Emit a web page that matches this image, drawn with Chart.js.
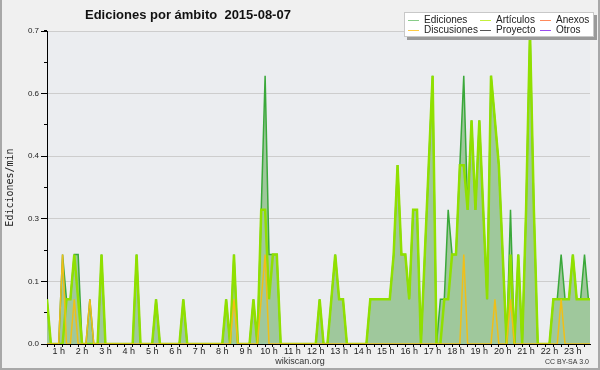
<!DOCTYPE html>
<html><head><meta charset="utf-8">
<script src="https://cdn.jsdelivr.net/npm/chart.js@4"></script>
<style>html,body{margin:0;padding:0;background:#f0f0f0;}canvas{display:block}</style>
</head><body>
<canvas id="c" width="600" height="370"></canvas>
<script>
const chartTitle = 'Ediciones por ámbito  2015-08-07';
const yTitle = 'Ediciones/min';
const footerSite = 'wikiscan.org';
const footerLicense = 'CC BY-SA 3.0';
const binMinutes = 10;
const hourLabels = ['1 h','2 h','3 h','4 h','5 h','6 h','7 h','8 h','9 h','10 h','11 h','12 h',
  '13 h','14 h','15 h','16 h','17 h','18 h','19 h','20 h','21 h','22 h','23 h'];
const yTickValues = [0, 0.14, 0.28, 0.42, 0.56, 0.7];
const yTickLabels = ['0.0','0.1','0.3','0.4','0.6','0.7'];

const ediciones = [
 0.1,0,0,0,0.2,0.1,  0.1,0.2,0.2,0,0,0.1,  0,0,0.2,0,0,0,  0,0,0,0,0,0.2,
 0,0,0,0,0.1,0,  0,0,0,0,0,0.1,  0,0,0,0,0,0,  0,0,0,0,0.1,0,
 0.2,0,0,0,0,0.1,  0,0.3,0.6,0.2,0.2,0.2,  0,0,0,0,0,0,  0,0,0,0,0.1,0,
 0,0.1,0.2,0.1,0.1,0,  0,0,0,0,0,0.1,  0.1,0.1,0.1,0.1,0.1,0.2,  0.4,0.2,0.2,0.1,0.3,0.3,
 0,0.2,0.4,0.6,0,0.1,  0.1,0.3,0.2,0.2,0.4,0.6,  0.3,0.5,0.3,0.5,0.3,0.1,  0.6,0.5,0.4,0.2,0,0.3,
 0,0.2,0,0.3,0.7,0.3,  0,0,0,0,0.1,0.1,  0.2,0.1,0.1,0.2,0.1,0.1,  0.2,0.1,0.1];
const articulos = [
 0.1,0,0,0,0,0.1,  0.1,0.2,0.1,0,0,0,  0,0,0.2,0,0,0,  0,0,0,0,0,0.2,
 0,0,0,0,0.1,0,  0,0,0,0,0,0.1,  0,0,0,0,0,0,  0,0,0,0,0.1,0,
 0.2,0,0,0,0,0.1,  0,0.3,0.3,0.1,0.2,0.2,  0,0,0,0,0,0,  0,0,0,0,0.1,0,
 0,0.1,0.2,0.1,0.1,0,  0,0,0,0,0,0.1,  0.1,0.1,0.1,0.1,0.1,0.2,  0.4,0.2,0.2,0.1,0.3,0.3,
 0,0.2,0.4,0.6,0,0,  0.1,0.1,0.2,0.2,0.4,0.4,  0.3,0.5,0.3,0.5,0.3,0.1,  0.6,0.5,0.4,0.2,0,0.2,
 0,0.2,0,0.3,0.7,0.3,  0,0,0,0,0.1,0.1,  0.1,0.1,0.1,0.2,0.1,0.1,  0.1,0.1,0.1];
const discusiones = [
 0,0,0,0,0.2,0,  0,0.1,0,0,0,0.1,  0,0,0,0,0,0,  0,0,0,0,0,0,
 0,0,0,0,0,0,  0,0,0,0,0,0,  0,0,0,0,0,0,  0,0,0,0,0,0,
 0.1,0,0,0,0,0,  0,0.1,0.2,0,0,0,  0,0,0,0,0,0,  0,0,0,0,0,0,
 0,0,0,0,0,0,  0,0,0,0,0,0,  0,0,0,0,0,0,  0,0,0,0,0,0,
 0,0,0,0,0,0,  0,0,0,0,0,0.2,  0,0,0,0,0,0,  0,0.1,0,0,0,0.1,
 0,0,0,0,0,0,  0,0,0,0,0,0,  0.1,0,0,0,0,0,  0,0,0];
const anexos = [
 0,0,0,0,0,0, 0,0,0,0,0,0, 0,0,0,0,0,0, 0,0,0,0,0,0, 0,0,0,0,0,0, 0,0,0,0,0,0,
 0,0,0,0,0,0, 0,0,0,0,0,0, 0,0,0,0,0,0, 0,0,0,0,0,0, 0,0,0,0,0,0, 0,0,0,0,0,0,
 0,0,0,0,0,0, 0,0,0,0,0,0, 0,0,0,0,0,0, 0,0,0,0,0,0, 0,0,0,0,0,0, 0,0,0,0,0,0,
 0,0,0,0,0,0, 0,0,0,0,0,0, 0,0,0,0,0,0, 0,0,0,0,0,0, 0,0,0,0,0,0, 0,0,0];
const proyecto = [
 0,0,0,0,0,0, 0,0,0,0,0,0, 0,0,0,0,0,0, 0,0,0,0,0,0, 0,0,0,0,0,0, 0,0,0,0,0,0,
 0,0,0,0,0,0, 0,0,0,0,0,0, 0,0,0,0,0,0, 0,0,0,0,0,0, 0,0,0,0,0,0, 0,0,0,0,0,0,
 0,0,0,0,0,0, 0,0,0,0,0,0, 0,0,0,0,0,0, 0,0,0,0,0,0, 0,0,0,0,0,0, 0,0,0,0,0,0,
 0,0,0,0,0,0, 0,0,0,0,0,0, 0,0,0,0,0,0, 0,0,0,0,0,0, 0,0,0,0,0,0, 0,0,0];
const otros = [
 0,0,0,0,0,0, 0,0,0,0,0,0, 0,0,0,0,0,0, 0,0,0,0,0,0, 0,0,0,0,0,0, 0,0,0,0,0,0,
 0,0,0,0,0,0, 0,0,0,0,0,0, 0,0,0,0,0,0, 0,0,0,0,0,0, 0,0,0,0,0,0, 0,0,0,0,0,0,
 0,0,0,0,0,0, 0,0,0,0,0,0, 0,0,0,0,0,0, 0,0,0,0,0,0, 0,0,0,0,0,0, 0,0,0,0,0,0,
 0,0,0,0,0,0, 0,0,0,0,0,0, 0,0,0,0,0,0, 0,0,0,0,0,0, 0,0,0,0,0,0, 0,0,0];

const xMax = 23.235; // visible span of the time axis, hours
const pts = arr => arr.map((v, i) => ({x: i * binMinutes / 60, y: v}));

const datasets = [
  {label:'Ediciones', data:pts(ediciones), borderColor:'#3aa83a', backgroundColor:'#9fc89c', fill:'origin', borderWidth:1.5, order:3, legendColor:'#88cc88'},
  {label:'Artículos', data:pts(articulos), borderColor:'#90e000', borderWidth:2.5, fill:false, order:2, legendColor:'#c4f03c'},
  {label:'Anexos', data:pts(anexos), borderColor:'#ff7f50', borderWidth:1, fill:false, order:5, legendColor:'#ff8a5c'},
  {label:'Discusiones', data:pts(discusiones), borderColor:'#f0bf18', borderWidth:1.5, fill:false, order:1, legendColor:'#ffcc44'},
  {label:'Proyecto', data:pts(proyecto), borderColor:'#555555', borderWidth:1, fill:false, order:4, legendColor:'#555555'},
  {label:'Otros', data:pts(otros), borderColor:'#9040f0', borderWidth:1, fill:false, order:6, legendColor:'#9a4cf0'}
];
datasets.forEach(d => { d.xAxisID = 'x'; d.yAxisID = 'y'; d.pointRadius = 0; d.tension = 0; });

const decor = {
  id:'decor',
  beforeDraw(chart){
    const {ctx, chartArea:a} = chart;
    ctx.save();
    ctx.fillStyle = '#f0f0f0';
    ctx.fillRect(0, 0, chart.width, chart.height);
    ctx.fillStyle = '#ebedf0';
    ctx.fillRect(a.left, a.top, a.right - a.left, a.bottom - a.top);
    ctx.restore();
  },
  afterDraw(chart){
    const {ctx, chartArea:a} = chart;
    ctx.save();
    ctx.fillStyle = '#a8a8a8';
    ctx.fillRect(0, 0, 2, chart.height);
    ctx.fillRect(0, chart.height - 2, chart.width, 2);
    ctx.fillRect(chart.width - 2, 0, 2, chart.height);
    ctx.fillStyle = '#111';
    ctx.font = 'bold 13px "Liberation Sans", Arial, sans-serif';
    ctx.textAlign = 'left'; ctx.textBaseline = 'alphabetic';
    ctx.fillText(chartTitle, 85, 18.5);
    ctx.save();
    ctx.translate(13, (a.top + a.bottom) / 2);
    ctx.rotate(-Math.PI / 2);
    ctx.font = '10px "DejaVu Sans Mono", monospace';
    ctx.textAlign = 'center'; ctx.textBaseline = 'alphabetic';
    ctx.fillStyle = '#222';
    ctx.fillText(yTitle, 0, 0);
    ctx.restore();
    ctx.fillStyle = '#333';
    ctx.font = '9px "Liberation Sans", Arial, sans-serif';
    ctx.textAlign = 'center';
    ctx.fillText(footerSite, 300, 364);
    ctx.font = '7px "Liberation Sans", Arial, sans-serif';
    ctx.textAlign = 'right';
    ctx.fillText(footerLicense, 589, 364);
    const lx = 404, ly = 12, lw = 190, lh = 25;
    ctx.fillStyle = '#9a9a9a';
    ctx.fillRect(lx + 3, ly + 3, lw, lh);
    ctx.fillStyle = '#ffffff';
    ctx.fillRect(lx, ly, lw, lh);
    ctx.strokeStyle = '#c8c8c8'; ctx.lineWidth = 1;
    ctx.strokeRect(lx + 0.5, ly + 0.5, lw - 1, lh - 1);
    const colX = [408, 480, 540];
    const rowY = [19.5, 29.5];
    ctx.font = '10px "Liberation Sans", Arial, sans-serif';
    ctx.textAlign = 'left'; ctx.textBaseline = 'middle';
    chart.data.datasets.forEach((d, i) => {
      const cx = colX[i % 3], cy = rowY[Math.floor(i / 3)];
      ctx.strokeStyle = d.legendColor; ctx.lineWidth = 1;
      ctx.beginPath(); ctx.moveTo(cx, Math.round(cy) + 0.5); ctx.lineTo(cx + 11, Math.round(cy) + 0.5); ctx.stroke();
      ctx.fillStyle = '#222';
      ctx.fillText(d.label, cx + 16, cy + 0.5);
    });
    ctx.restore();
  }
};

new Chart(document.getElementById('c'), {
  type:'line',
  data:{datasets},
  plugins:[decor],
  options:{
    responsive:false, animation:false, devicePixelRatio:1,
    layout:{padding:{top:31, right:10, bottom:11, left:0}},
    plugins:{legend:{display:false}, title:{display:false}, tooltip:{enabled:false}},
    elements:{point:{radius:0}, line:{tension:0}},
    scales:{
      x:{type:'linear', position:'bottom', min:0, max:xMax, z:1, weight:0,
        afterBuildTicks: s => { const t = []; for (let k = 0; k / 3 <= xMax; k++) t.push({value:k / 3}); s.ticks = t; },
        grid:{drawOnChartArea:false, drawTicks:true, tickLength:3, tickColor:'#000', lineWidth:1},
        border:{display:true, color:'#000', width:1},
        ticks:{callback:() => '', padding:0, autoSkip:false, maxRotation:0},
        afterFit: s => { s.height = 3; }
      },
      xl:{type:'linear', position:'bottom', min:0, max:xMax, weight:1,
        afterBuildTicks: s => { s.ticks = hourLabels.map((t, i) => ({value:i + 0.5})); },
        grid:{display:false, drawTicks:false},
        border:{display:false},
        ticks:{font:{family:'Liberation Sans', size:9}, color:'#222', padding:-1, autoSkip:false, maxRotation:0,
          callback:(v, i) => hourLabels[i]},
        afterFit: s => { s.height = 12; }
      },
      y:{type:'linear', position:'left', min:0, max:0.7, weight:1,
        afterBuildTicks: s => { s.ticks = yTickValues.map(v => ({value:v})); },
        grid:{color:'#cdcdcd', lineWidth:1, tickColor:'#000', tickLength:6, drawTicks:true},
        border:{display:true, color:'#000', width:1},
        ticks:{font:{family:'Liberation Sans', size:8}, color:'#222', padding:2, callback:(v, i) => yTickLabels[i]},
        afterFit: s => { s.width = 47; }
      },
      ym:{type:'linear', position:'left', min:0, max:0.7, weight:0,
        afterBuildTicks: s => { const t = []; for (let k = 0; k <= 20; k++) t.push({value:k * 0.035}); s.ticks = t; },
        grid:{drawOnChartArea:false, drawTicks:true, tickColor:'#000', tickLength:3},
        border:{display:false},
        ticks:{callback:() => '', padding:0},
        afterFit: s => { s.width = 0; }
      }
    }
  }
});
</script>
</body></html>
